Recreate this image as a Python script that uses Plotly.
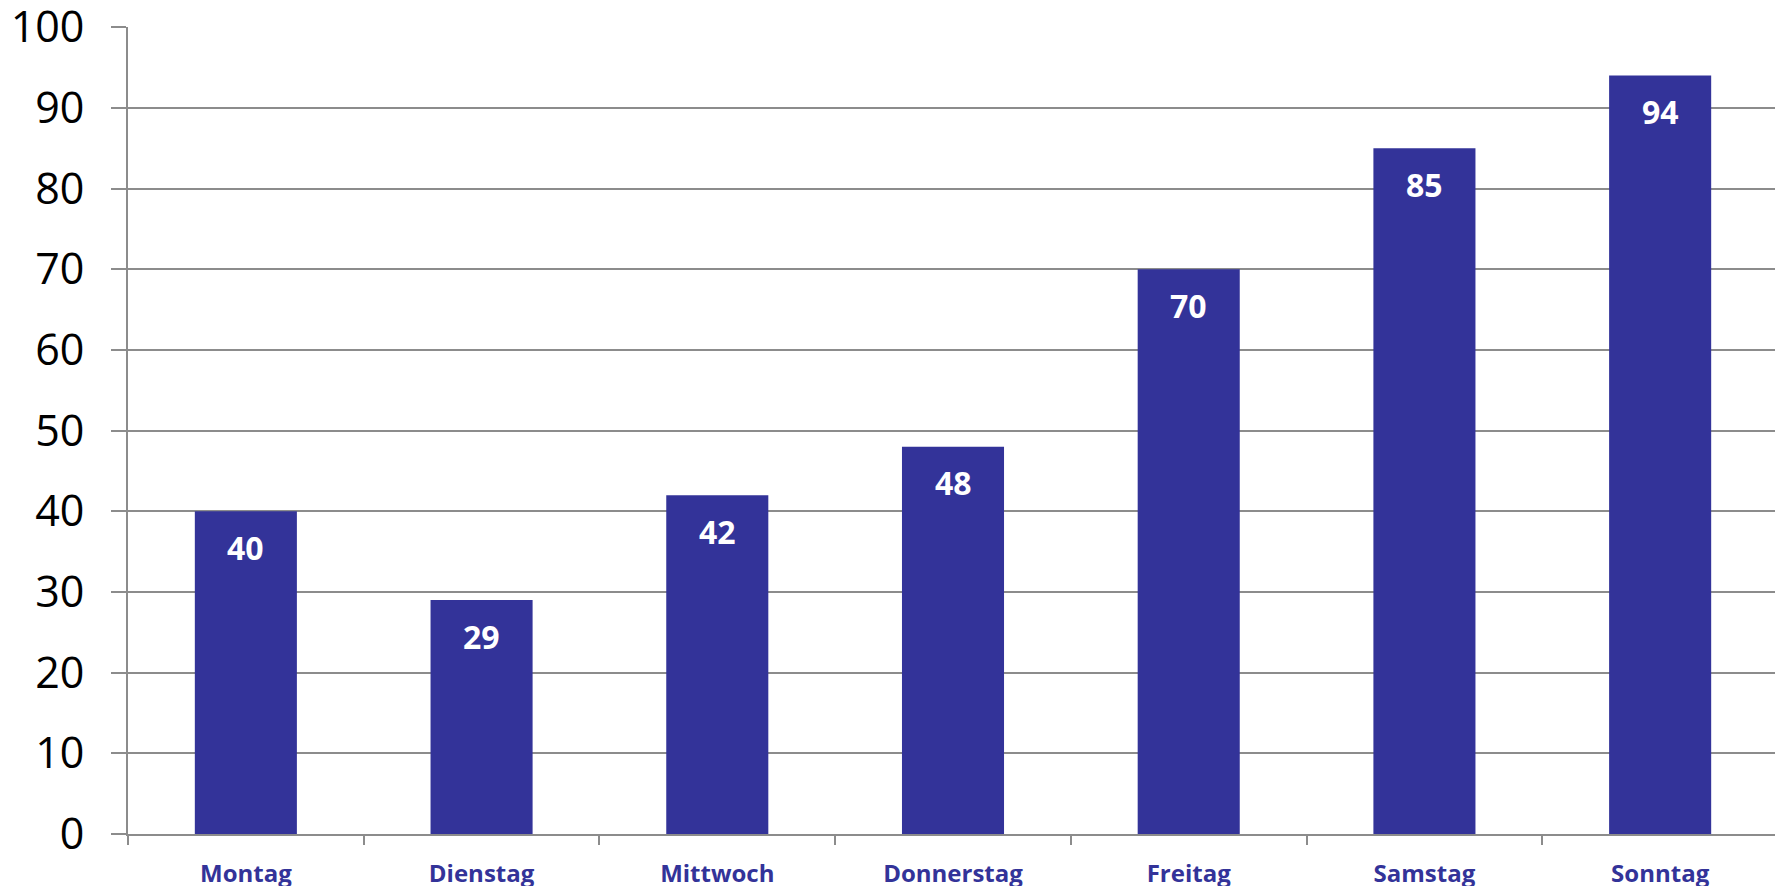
import plotly.graph_objects as go

days = ["Montag", "Dienstag", "Mittwoch", "Donnerstag", "Freitag", "Samstag", "Sonntag"]
values = [40, 29, 42, 48, 70, 85, 94]
y_ticks = [0, 10, 20, 30, 40, 50, 60, 70, 80, 90, 100]

BAR = "#333399"
GRID = "#8c8c8c"
FONT = "Open Sans"

fig = go.Figure()
fig.add_trace(go.Bar(x=days, y=values, marker_color=BAR, marker_line_width=0,
                     width=0.433, hoverinfo="x+y"))

for d, v in zip(days, values):
    fig.add_annotation(x=d, y=v, text=f"<b>{v}</b>", showarrow=False,
                       yanchor="middle", yshift=-36,
                       font=dict(family=FONT, size=32, color="white"))

# page body has an 8px margin, so the figure is sized to fit the window
fig.update_layout(
    width=1775, height=878,
    margin=dict(l=120, r=5, t=19, b=52),
    paper_bgcolor="white", plot_bgcolor="white",
    showlegend=False,
    bargap=0.567,
)
fig.update_xaxes(
    type="category", showline=True, linecolor=GRID, linewidth=2,
    ticks="outside", tickson="boundaries", ticklen=9, tickcolor=GRID, tickwidth=2,
    showgrid=False, automargin=False, ticklabeloverflow="allow",
    tickfont=dict(family=FONT, size=24, color=BAR, weight="bold"),
    ticklabelstandoff=17,
)
fig.update_yaxes(
    range=[0, 100.02], tickvals=y_ticks, showline=True, linecolor=GRID, linewidth=2,
    ticks="outside", ticklen=15, tickcolor=GRID, tickwidth=2,
    showgrid=True, gridcolor=GRID, gridwidth=2, zeroline=False, automargin=False,
    ticklabeloverflow="allow",
    tickfont=dict(family=FONT, size=43, color="black"),
    ticklabelstandoff=18,
)

fig.write_html("out.html")
